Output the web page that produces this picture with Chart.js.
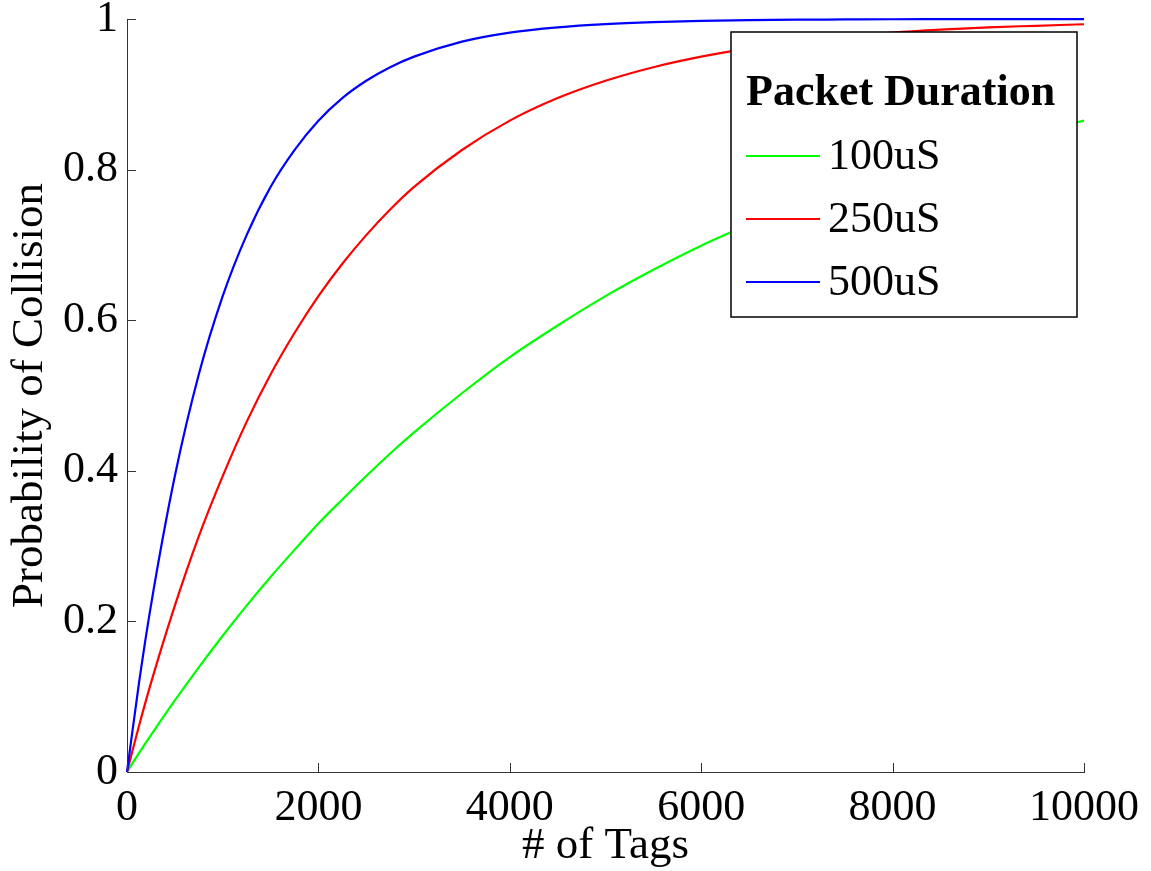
<!DOCTYPE html>
<html>
<head>
<meta charset="utf-8">
<script src="https://cdn.jsdelivr.net/npm/chart.js@4/dist/chart.umd.min.js"></script>
<style>
  html, body { margin: 0; padding: 0; background: #fff; }
  #wrap { width: 1151px; height: 871px; }
</style>
</head>
<body>
<div id="wrap"><canvas id="collision-chart" width="1151" height="871"></canvas></div>
<script>
// number of tags (x)
const tags = [0, 125, 250, 500, 750, 1000, 1250, 1500, 1750, 2000, 2250, 2500, 2750, 3000, 3500, 4000, 4500, 5000,
  5500, 6000, 6500, 7000, 7500, 8000, 8500, 9000, 9500, 10000];

const p100 = [0, 0.025, 0.049, 0.095, 0.139, 0.181, 0.221, 0.259, 0.295, 0.330, 0.362, 0.393, 0.423, 0.451, 0.503, 0.551, 0.593, 0.632,
  0.667, 0.699, 0.727, 0.753, 0.777, 0.798, 0.817, 0.835, 0.850, 0.865];
const p250 = [0, 0.061, 0.118, 0.221, 0.313, 0.393, 0.465, 0.528, 0.583, 0.632, 0.675, 0.713, 0.747, 0.777, 0.826, 0.865, 0.895, 0.918,
  0.936, 0.950, 0.961, 0.970, 0.976, 0.982, 0.986, 0.989, 0.991, 0.993];
const p500 = [0, 0.118, 0.221, 0.393, 0.528, 0.632, 0.713, 0.777, 0.826, 0.865, 0.895, 0.918, 0.936, 0.950, 0.970, 0.982, 0.989, 0.9933,
  0.9959, 0.9975, 0.9985, 0.9991, 0.9994, 0.9997, 0.9998, 0.9999, 0.99993, 0.99995];

const seriesLabels = ['100uS', '250uS', '500uS'];
const seriesColors = ['#00ff00', '#ff0000', '#0000ff'];
const legendTitle = 'Packet Duration';
const xTitle = '# of Tags';
const yTitle = 'Probability of Collision';

const FONT = 'Liberation Serif';
const ctx = document.getElementById('collision-chart').getContext('2d');

const toPoints = (ys) => tags.map((x, i) => ({ x, y: ys[i] }));

const fixBox = (w, h) => (scale) => {
  if (w != null) scale.width = w;
  if (h != null) scale.height = h;
  scale.paddingTop = 0;
  scale.paddingBottom = 0;
  scale.paddingLeft = 0;
  scale.paddingRight = 0;
};

// inward tick marks like the matlab axes
const innerTicks = {
  id: 'innerTicks',
  afterDraw(chart) {
    const { ctx, chartArea, scales } = chart;
    ctx.save();
    ctx.strokeStyle = '#333';
    ctx.lineWidth = 1;
    ctx.beginPath();
    scales.x.ticks.forEach(t => {
      const px = Math.round(scales.x.getPixelForValue(t.value)) + 0.5;
      ctx.moveTo(px, chartArea.bottom);
      ctx.lineTo(px, chartArea.bottom - 9);
    });
    scales.y.ticks.forEach(t => {
      const py = Math.round(scales.y.getPixelForValue(t.value)) + 0.5;
      ctx.moveTo(chartArea.left, py);
      ctx.lineTo(chartArea.left + 9, py);
    });
    ctx.stroke();
    ctx.restore();
  }
};

const boxLegend = {
  id: 'boxLegend',
  afterDraw(chart) {
    const { ctx, chartArea } = chart;
    const right = chartArea.right - 7;
    const left = right - 346;
    const top = chartArea.top + 13;
    const bottom = top + 285;
    ctx.save();
    ctx.fillStyle = '#fff';
    ctx.fillRect(left, top, right - left, bottom - top);
    ctx.strokeStyle = '#000';
    ctx.lineWidth = 1.5;
    ctx.strokeRect(left, top, right - left, bottom - top);

    ctx.fillStyle = '#000';
    ctx.textAlign = 'left';
    ctx.textBaseline = 'alphabetic';
    ctx.font = `bold 44px "${FONT}"`;
    ctx.fillText(legendTitle, left + 15, top + 73);

    ctx.font = `44px "${FONT}"`;
    ctx.textBaseline = 'middle';
    chart.data.datasets.forEach((ds, i) => {
      const y = top + 124 + i * 63;
      ctx.strokeStyle = ds.borderColor;
      ctx.lineWidth = 2;
      ctx.beginPath();
      ctx.moveTo(left + 15, y);
      ctx.lineTo(left + 89, y);
      ctx.stroke();
      ctx.fillText(ds.label, left + 97, y + 1);
    });
    ctx.restore();
  }
};

new Chart(ctx, {
  type: 'line',
  data: {
    datasets: [p100, p250, p500].map((ys, i) => ({
      label: seriesLabels[i],
      data: toPoints(ys),
      borderColor: seriesColors[i],
      borderWidth: 2.2,
      pointRadius: 0,
      cubicInterpolationMode: 'monotone',
      clip: false,
      order: 3 - i
    }))
  },
  options: {
    responsive: false,
    animation: false,
    events: [],
    layout: { padding: { top: 19, right: 67, left: 0, bottom: 0 } },
    plugins: {
      legend: { display: false },
      tooltip: { enabled: false }
    },
    scales: {
      x: {
        type: 'linear',
        min: 0,
        max: 10000,
        afterFit: fixBox(null, 99),
        grid: { display: false, drawTicks: false },
        border: { display: true, color: '#333', width: 1 },
        ticks: {
          stepSize: 2000,
          padding: 10,
          color: '#000',
          font: { family: FONT, size: 44 },
          maxRotation: 0,
          callback: (v) => String(v)
        },
        title: {
          display: true,
          text: xTitle,
          color: '#000',
          font: { family: FONT, size: 45, lineHeight: 1.1 },
          padding: { top: 0, bottom: 0 }
        }
      },
      y: {
        min: 0,
        max: 1,
        afterFit: fixBox(127, null),
        grid: { display: false, drawTicks: false },
        border: { display: true, color: '#333', width: 1 },
        ticks: {
          stepSize: 0.2,
          padding: 9,
          color: '#000',
          font: { family: FONT, size: 44 },
          callback: (v) => v === 0 || v === 1 ? String(v) : v.toFixed(1)
        },
        title: {
          display: true,
          text: yTitle,
          color: '#000',
          font: { family: FONT, size: 45, lineHeight: 1.1 },
          padding: { top: 5, bottom: 0 }
        }
      }
    }
  },
  plugins: [innerTicks, boxLegend]
});
</script>
</body>
</html>
